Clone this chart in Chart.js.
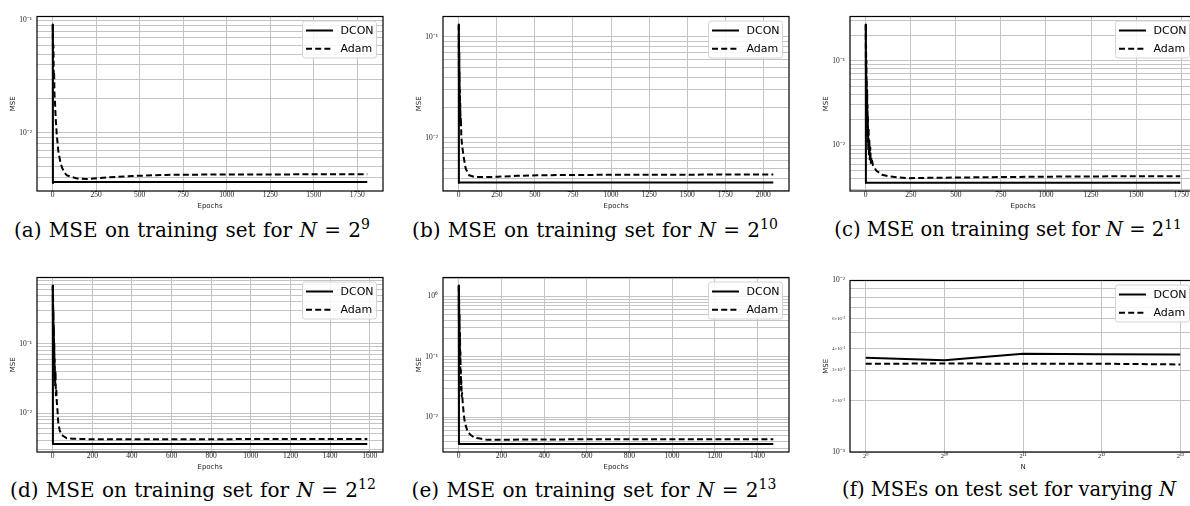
<!DOCTYPE html>
<html>
<head>
<meta charset="utf-8">
<title>DCON vs Adam MSE</title>
<script src="https://cdn.jsdelivr.net/npm/chart.js@4.4.1/dist/chart.umd.min.js"></script>
<style>
  html, body { margin: 0; padding: 0; background: #fff; }
  body { position: relative; width: 1190px; height: 506px; overflow: hidden; }
  canvas { position: absolute; }
  .cap { position: absolute; font: 20px/20px "DejaVu Serif", serif; word-spacing: 1px; white-space: nowrap; transform: translateX(-50%); color: #000; }
  .cap.narrow { font-size: 19.5px; word-spacing: 0; }
  .cap sup { font-size: 70%; position: relative; top: -0.55em; vertical-align: baseline; line-height: 0; }
</style>
</head>
<body>
<canvas id="p9"></canvas>
<canvas id="p10"></canvas>
<canvas id="p11"></canvas>
<canvas id="p12"></canvas>
<canvas id="p13"></canvas>
<canvas id="ptest"></canvas>
<div class="cap" style="left:192px;top:220px">(a) MSE on training set for <i>N</i> = 2<sup>9</sup></div>
<div class="cap" style="left:595px;top:220px">(b) MSE on training set for <i>N</i> = 2<sup>10</sup></div>
<div class="cap narrow" style="left:1008px;top:220px">(c) MSE on training set for <i>N</i> = 2<sup>11</sup></div>
<div class="cap" style="left:193px;top:480px">(d) MSE on training set for <i>N</i> = 2<sup>12</sup></div>
<div class="cap" style="left:594px;top:480px">(e) MSE on training set for <i>N</i> = 2<sup>13</sup></div>
<div class="cap narrow" style="left:1009px;top:480px">(f) MSEs on test set for varying <i>N</i></div>
<script>
"use strict";

// ---- training runs: (epoch, MSE) samples per optimiser ----
const dconEpochs9 = [0, 1, 2, 1808];
const dconMse9 = [0.0916, 0.00358, 0.00366, 0.00366];
const adamEpochs9 = [0, 2, 4, 6, 8, 10, 13, 17, 23, 32, 42, 52, 65, 80, 100, 138, 195, 272, 360, 463, 655, 900, 1200, 1500, 1808];
const adamMse9 = [0.0916, 0.045, 0.06, 0.03, 0.035, 0.022, 0.0189, 0.0135, 0.0097, 0.0069, 0.0057, 0.00497, 0.0045, 0.0042, 0.0041, 0.00394, 0.00389, 0.00398, 0.00406, 0.00414, 0.00423, 0.00426, 0.00427, 0.00428, 0.00428];

const dconEpochs10 = [0, 1, 2, 2065];
const dconMse10 = [0.133, 0.00358, 0.00363, 0.00363];
const adamEpochs10 = [0, 1, 2, 3, 4, 5, 6, 7, 8, 9, 10, 12, 14, 17, 22, 31, 46, 68, 101, 160, 254, 380, 516, 800, 1200, 1600, 2065];
const adamMse10 = [0.133, 0.04, 0.1, 0.025, 0.07, 0.02, 0.045, 0.016, 0.03, 0.014, 0.022, 0.013, 0.016, 0.0104, 0.0085, 0.00668, 0.00496, 0.00428, 0.00413, 0.0041, 0.00413, 0.00422, 0.00428, 0.00431, 0.00433, 0.00434, 0.00434];

const dconEpochs11 = [0, 1, 2, 1745];
const dconMse11 = [0.267, 0.00358, 0.00361, 0.00361];
const adamEpochs11 = [0, 1, 2, 3, 4, 5, 6, 7, 8, 9, 10, 11, 12, 14, 16, 18, 20, 22, 25, 28, 32, 40, 59, 90, 133, 225, 400, 687, 1000, 1400, 1745];
const adamMse11 = [0.267, 0.08, 0.15, 0.04, 0.1, 0.03, 0.06, 0.02, 0.045, 0.014, 0.03, 0.011, 0.022, 0.009, 0.016, 0.0075, 0.012, 0.0068, 0.0095, 0.0062, 0.0072, 0.0058, 0.00501, 0.0045, 0.00428, 0.00409, 0.00414, 0.0042, 0.00426, 0.0043, 0.00431];

const dconEpochs12 = [0, 1, 2, 1588];
const dconMse12 = [0.69, 0.00358, 0.00359, 0.00359];
const adamEpochs12 = [0, 1, 2, 3, 4, 5, 6, 7, 8, 9, 10, 12, 14, 16, 18, 20, 24, 28, 35, 45, 57, 70, 100, 155, 300, 600, 1000, 1588];
const adamMse12 = [0.69, 0.25, 0.45, 0.12, 0.3, 0.08, 0.18, 0.05, 0.1, 0.035, 0.06, 0.025, 0.04, 0.018, 0.022, 0.0151, 0.011, 0.0071, 0.0057, 0.00485, 0.0046, 0.00435, 0.00428, 0.00422, 0.0042, 0.00421, 0.00422, 0.00422];

const dconEpochs13 = [0, 1, 2, 1474];
const dconMse13 = [1.52, 0.00358, 0.00357, 0.00357];
const adamEpochs13 = [0, 1, 2, 3, 4, 5, 6, 7, 8, 9, 10, 11, 12, 14, 16, 19, 23, 27, 34, 42, 55, 73, 100, 136, 200, 323, 600, 1000, 1474];
const adamMse13 = [1.52, 0.4, 0.9, 0.2, 0.5, 0.1, 0.25, 0.06, 0.12, 0.035, 0.06, 0.028, 0.04, 0.022, 0.025, 0.0165, 0.012, 0.00885, 0.007, 0.0057, 0.0051, 0.00457, 0.0044, 0.00419, 0.0042, 0.00425, 0.00428, 0.0043, 0.0043];

// epoch axis ticks
const epochTicks250 = [0, 250, 500, 750, 1000, 1250, 1500, 1750];
const epochTicks250to2000 = [0, 250, 500, 750, 1000, 1250, 1500, 1750, 2000];
const epochTicks200to1600 = [0, 200, 400, 600, 800, 1000, 1200, 1400, 1600];
const epochTicks200to1400 = [0, 200, 400, 600, 800, 1000, 1200, 1400];

// ---- test set: final MSE against training set size N ----
const sizesN = [512, 1024, 2048, 4096, 8192];
const sizeLabels = ['2⁹', '2¹⁰', '2¹¹', '2¹²', '2¹³'];
const dconTest = [0.00354, 0.00343, 0.00374, 0.00371, 0.0037];
const adamTest = [0.00327, 0.00328, 0.00327, 0.00327, 0.00324];
const testTicks = [0.001, 0.002, 0.003, 0.004, 0.005, 0.006, 0.007, 0.008, 0.009, 0.01];
const testTickLabels = ['10⁻³', '2×10⁻³', '3×10⁻³', '4×10⁻³', '', '6×10⁻³', '', '', '', '10⁻²'];

// ---- layout ----
const Y_AXIS_W = 32, X_AXIS_H = 22, PAD_T = 6, PAD_R = 6;
const GRID = '#c4c4c4';
const TICK_FONT = {family: '"Liberation Serif", serif', size: 7.5};
const TITLE_FONT = {family: '"DejaVu Sans", sans-serif', size: 7};

const pairs = (xs, ys) => xs.map((x, i) => ({x: x, y: ys[i]}));

// matplotlib-style autoscale: 5% margin (in log space for log axes)
function linLimits(values) {
  const lo = Math.min(...values), hi = Math.max(...values), m = (hi - lo) * 0.05;
  return [lo - m, hi + m];
}
function logLimits(values) {
  const lo = Math.log10(Math.min(...values)), hi = Math.log10(Math.max(...values));
  const m = (hi - lo) * 0.05;
  return [Math.pow(10, lo - m), Math.pow(10, hi + m)];
}

// 1..9 x 10^k grid, labels only on decades
function logTicks(min, max) {
  const out = [];
  for (let e = Math.floor(Math.log10(min)); e <= Math.ceil(Math.log10(max)); e++) {
    for (let k = 1; k < 10; k++) {
      const v = k * Math.pow(10, e);
      if (v >= min * 0.9999 && v <= max * 1.0001) out.push({value: v});
    }
  }
  return out;
}
const SUP = {'-': '⁻', '0': '⁰', '1': '¹', '2': '²', '3': '³', '4': '⁴', '5': '⁵', '6': '⁶', '7': '⁷', '8': '⁸', '9': '⁹'};
function decadeLabel(v) {
  const e = Math.log10(v);
  if (Math.abs(e - Math.round(e)) > 1e-9) return '';
  return '10' + String(Math.round(e)).split('').map(c => SUP[c]).join('');
}

// axes box + legend in the upper right corner of the plot area
const frameAndLegend = {
  id: 'frameAndLegend',
  afterDatasetsDraw(chart) {
    const {ctx, chartArea: a} = chart;
    ctx.save();
    ctx.strokeStyle = '#000';
    ctx.lineWidth = 1.2;
    ctx.strokeRect(a.left, a.top, a.right - a.left, a.bottom - a.top);

    const w = 74, h = 37, x = a.right - 6.5 - w, y = a.top + 4.5;
    ctx.beginPath();
    if (ctx.roundRect) ctx.roundRect(x, y, w, h, 2.5); else ctx.rect(x, y, w, h);
    ctx.fillStyle = 'rgba(255,255,255,0.85)';
    ctx.fill();
    ctx.strokeStyle = '#d4d4d4';
    ctx.lineWidth = 1;
    ctx.stroke();

    ctx.font = '11px "DejaVu Sans", sans-serif';
    ctx.textBaseline = 'middle';
    chart.data.datasets.forEach((ds, i) => {
      const ly = y + 9.5 + i * 18.3;
      ctx.beginPath();
      ctx.setLineDash(ds.borderDash || []);
      ctx.strokeStyle = ds.borderColor;
      ctx.lineWidth = ds.borderWidth;
      ctx.moveTo(x + 3.5, ly);
      ctx.lineTo(x + 30.5, ly);
      ctx.stroke();
      ctx.setLineDash([]);
      ctx.fillStyle = '#000';
      ctx.fillText(ds.label, x + 38, ly + 0.5);
    });
    ctx.restore();
  }
};

function series(label, points, dashed) {
  return {
    label: label,
    data: points,
    borderColor: '#000',
    borderWidth: 2,
    borderDash: dashed ? [6, 3.2] : [],
    borderJoinStyle: 'round',
    pointRadius: 0,
    tension: 0,
    order: dashed ? 0 : 1
  };
}

function makePanel(id, frame, datasets, xScale, yScale) {
  const cv = document.getElementById(id);
  const [l, t, r, b] = frame;
  cv.width = r - l + Y_AXIS_W + PAD_R;
  cv.height = b - t + PAD_T + X_AXIS_H;
  cv.style.left = (l - Y_AXIS_W) + 'px';
  cv.style.top = (t - PAD_T) + 'px';
  return new Chart(cv, {
    type: 'line',
    data: {datasets: datasets},
    options: {
      responsive: false,
      devicePixelRatio: 1,
      animation: false,
      layout: {padding: {top: PAD_T, right: PAD_R, left: 0, bottom: 0}},
      plugins: {legend: {display: false}, tooltip: {enabled: false}},
      scales: {x: xScale, y: yScale}
    },
    plugins: [frameAndLegend]
  });
}

function baseScale(extra) {
  return Object.assign({
    bounds: 'data',
    grid: {color: GRID, lineWidth: 1, drawTicks: false},
    border: {display: false}
  }, extra);
}

function epochAxis(epochs, ticks) {
  const [min, max] = linLimits(epochs);
  return baseScale({
    type: 'linear', min: min, max: max,
    ticks: {autoSkip: false, maxRotation: 0, padding: 0, font: TICK_FONT, color: '#222', callback: v => String(v)},
    afterBuildTicks: s => { s.ticks = ticks.map(v => ({value: v})); },
    afterFit: s => { s.height = X_AXIS_H; },
    title: {display: true, text: 'Epochs', font: TITLE_FONT, color: '#222', padding: {top: 0, bottom: 2.8}}
  });
}

function mseAxis(values) {
  const [min, max] = logLimits(values);
  return baseScale({
    type: 'logarithmic', min: min, max: max,
    ticks: {autoSkip: false, padding: 5, font: TICK_FONT, color: '#222', callback: v => decadeLabel(v)},
    afterBuildTicks: s => { s.ticks = logTicks(s.min, s.max); },
    afterFit: s => { s.width = Y_AXIS_W; },
    title: {display: true, text: 'MSE', font: TITLE_FONT, color: '#222', padding: {top: 3.8, bottom: 0}}
  });
}

function trainingPanel(id, frame, dE, dV, aE, aV, ticks) {
  makePanel(id, frame,
    [series('DCON', pairs(dE, dV), false), series('Adam', pairs(aE, aV), true)],
    epochAxis(dE.concat(aE), ticks),
    mseAxis(dV.concat(aV)));
}

trainingPanel('p9', [37, 13, 383, 191], dconEpochs9, dconMse9, adamEpochs9, adamMse9, epochTicks250);
trainingPanel('p10', [443, 13, 789, 191], dconEpochs10, dconMse10, adamEpochs10, adamMse10, epochTicks250to2000);
trainingPanel('p11', [850, 13, 1196, 191], dconEpochs11, dconMse11, adamEpochs11, adamMse11, epochTicks250);
trainingPanel('p12', [37, 274, 383, 452], dconEpochs12, dconMse12, adamEpochs12, adamMse12, epochTicks200to1600);
trainingPanel('p13', [443, 274, 789, 452], dconEpochs13, dconMse13, adamEpochs13, adamMse13, epochTicks200to1400);

// test MSE: both axes logarithmic, N on base-2 ticks
(function () {
  const lo = Math.log2(sizesN[0]), hi = Math.log2(sizesN[sizesN.length - 1]), m = (hi - lo) * 0.05;
  makePanel('ptest', [850, 277, 1196, 452],
    [series('DCON', pairs(sizesN, dconTest), false), series('Adam', pairs(sizesN, adamTest), true)],
    baseScale({
      type: 'logarithmic', min: Math.pow(2, lo - m), max: Math.pow(2, hi + m),
      ticks: {autoSkip: false, maxRotation: 0, padding: 0, font: {family: '"Liberation Serif", serif', size: 6.5}, color: '#222',
        callback: (v) => { const i = sizesN.indexOf(v); return i < 0 ? '' : sizeLabels[i]; }},
      afterBuildTicks: s => { s.ticks = sizesN.map(v => ({value: v})); },
      afterFit: s => { s.height = X_AXIS_H; },
      title: {display: true, text: 'N', font: TITLE_FONT, color: '#222', padding: {top: 0, bottom: 2.8}}
    }),
    baseScale({
      type: 'logarithmic', min: testTicks[0], max: testTicks[testTicks.length - 1],
      ticks: {autoSkip: false, padding: 5, color: '#222',
        font: c => ({family: '"Liberation Serif", serif', size: (c.index === 0 || c.index === testTicks.length - 1) ? 7.5 : 4.5}),
        callback: (v, i) => testTickLabels[i]},
      afterBuildTicks: s => { s.ticks = testTicks.map(v => ({value: v})); },
      afterFit: s => { s.width = Y_AXIS_W; },
      title: {display: true, text: 'MSE', font: TITLE_FONT, color: '#222', padding: {top: 3.8, bottom: 0}}
    }));
})();
</script>
</body>
</html>
